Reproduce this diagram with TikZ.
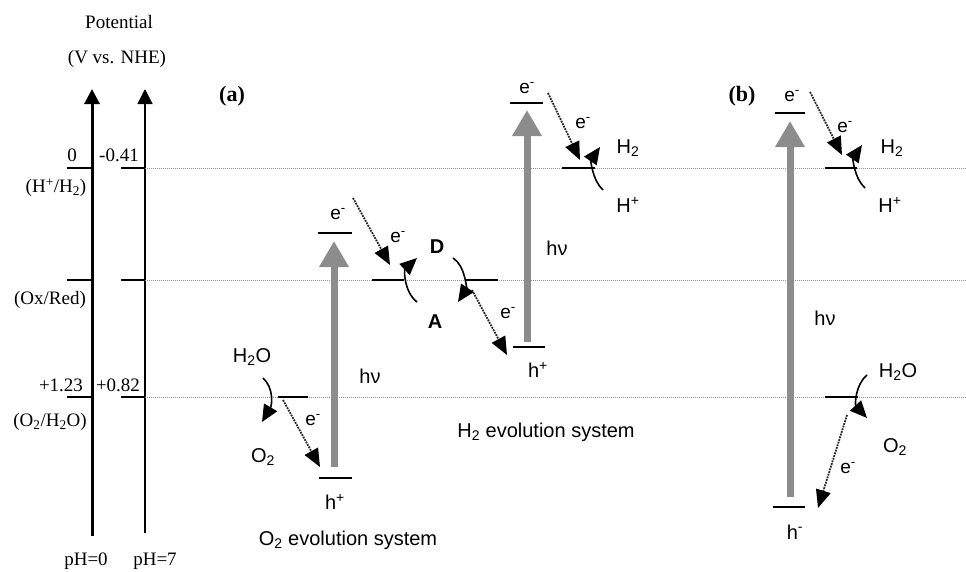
\documentclass[tikz,border=0pt]{standalone}
\usepackage{fontspec}
\setmainfont{Liberation Serif}
\setsansfont{Liberation Sans}
\usetikzlibrary{arrows.meta}
\definecolor{photongray}{RGB}{140,140,140}
\definecolor{refgray}{RGB}{150,150,150}
\begin{document}
\begin{tikzpicture}[x=1pt,y=-1pt,
  serif/.style={font=\fontsize{19}{22}\selectfont, inner sep=0pt},
  boldlab/.style={font=\bfseries\fontsize{22}{26}\selectfont, inner sep=0pt},
  lab/.style={font=\sffamily\fontsize{20}{24}\selectfont, inner sep=0pt},
  elab/.style={font=\sffamily\fontsize{19}{22}\selectfont, inner sep=0pt},
  axisline/.style={line width=3pt, -{Triangle[length=15pt,width=15pt]}},
  axisseven/.style={line width=1.6pt, -{Triangle[length=15pt,width=15pt]}},
  tickmark/.style={line width=2.2pt},
  refline/.style={refgray, line width=1pt, densely dotted},
  levelbar/.style={line width=2.8pt},
  photon/.style={line width=7pt, photongray, -{Triangle[length=26pt,width=28pt]}},
  etr/.style={line width=1.8pt, densely dotted, black!85, -{Triangle[length=18pt,width=15pt,color=black]}},
  curvearr/.style={line width=1.6pt, -{Triangle[length=17pt,width=15pt]}}
]
\useasboundingbox (0,0) rectangle (966,571);

% ---------- axes ----------
\coordinate (axzb) at (92,536);  \coordinate (axzt) at (92,89);
\coordinate (axsb) at (145,533); \coordinate (axst) at (145,89);
\draw[axisline] (axzb) -- (axzt);
\draw[axisseven] (axsb) -- (axst);

% ticks and reference lines
\foreach \yy/\nm in {168/h, 280/r, 397/o}{
  \coordinate (tl\nm) at (67,\yy);  \coordinate (tz\nm) at (92,\yy);
  \coordinate (ts\nm) at (121,\yy); \coordinate (tt\nm) at (145,\yy);
  \coordinate (te\nm) at (966,\yy);
  \draw[tickmark] (tl\nm) -- (tz\nm);
  \draw[tickmark, line width=1.8pt] (ts\nm) -- (tt\nm);
  \draw[refline] (tt\nm) -- (te\nm);
}

% axis labels
\node[serif] (lpot) at (119,22) {Potential};
\node[serif] (lvnhe) at (117,59) {(V vs. NHE)};
\node[serif] (lzero) at (72,155) {0};
\node[serif] (lm41) at (119,155) {-0.41};
\node[serif] (lhh) at (56,188) {(H\textsuperscript{+}/H\textsubscript{2})};
\node[serif] (loxred) at (50,300) {(Ox/Red)};
\node[serif] (l123) at (61,385) {+1.23};
\node[serif] (l082) at (118,385) {+0.82};
\node[serif] (loh) at (50,422) {(O\textsubscript{2}/H\textsubscript{2}O)};
\node[serif] (lph0) at (86,561) {pH=0};
\node[serif] (lph7) at (155,561) {pH=7};

\node[boldlab] (la) at (232,96) {(a)};
\node[boldlab] (lb) at (742,96) {(b)};

% ---------- (a) O2 evolution system ----------
\coordinate (oba) at (278,397); \coordinate (obb) at (308,397);
\draw[levelbar] (oba) -- (obb);
\coordinate (pab) at (334,467); \coordinate (pat) at (334,241);
\draw[photon] (pab) -- (pat);
\coordinate (eta) at (318,233); \coordinate (etb) at (352,233);
\draw[levelbar] (eta) -- (etb);
\coordinate (hba) at (319,478); \coordinate (hbb) at (352,478);
\draw[levelbar] (hba) -- (hbb);

\node[lab] (nhtwoo) at (252,357) {H\textsubscript{2}O};
\node[lab] (notwo) at (263,457) {O\textsubscript{2}};
\node[lab] (nhva) at (370,376) {hν};
\node[elab] (neat) at (338,214) {e\textsuperscript{-}};
\node[lab] (nhpa) at (335,502) {h\textsuperscript{+}};
\node[lab] (nosys) at (348,540) {O\textsubscript{2} evolution system};
\node[elab] (neone) at (313,420) {e\textsuperscript{-}};

\coordinate (caS) at (263,378); \coordinate (caE) at (262,422);
\draw[curvearr] (caS) .. controls (274,388) and (272,405) .. (caE);
\coordinate (eoS) at (283,400); \coordinate (eoE) at (320,467);
\draw[etr] (eoS) -- (eoE);

% ---------- mediator ----------
\coordinate (maa) at (372,280); \coordinate (mab) at (404,280);
\draw[levelbar] (maa) -- (mab);
\coordinate (mda) at (465,280); \coordinate (mdb) at (498,280);
\draw[levelbar] (mda) -- (mdb);
\node[lab, font=\sffamily\bfseries\fontsize{20}{24}\selectfont] (nD) at (437,247) {D};
\node[lab, font=\sffamily\bfseries\fontsize{20}{24}\selectfont] (nA) at (435,322) {A};
\coordinate (cbS) at (417,302); \coordinate (cbE) at (417,258);
\draw[curvearr] (cbS) .. controls (404,292) and (404,270) .. (cbE);
\coordinate (ccS) at (453,258); \coordinate (ccE) at (458,302);
\draw[curvearr] (ccS) .. controls (466,266) and (466,290) .. (ccE);
\coordinate (etwoS) at (353,198); \coordinate (etwoE) at (390,265);
\draw[etr] (etwoS) -- (etwoE);
\node[elab] (netwo) at (398,237) {e\textsuperscript{-}};
\coordinate (ethS) at (472,290); \coordinate (ethE) at (507,355);
\draw[etr] (ethS) -- (ethE);
\node[elab] (neth) at (508,313) {e\textsuperscript{-}};

% ---------- (a) H2 evolution system ----------
\coordinate (pbb) at (527,342); \coordinate (pbt) at (527,110);
\draw[photon] (pbb) -- (pbt);
\coordinate (hta) at (510,103); \coordinate (htb) at (543,103);
\draw[levelbar] (hta) -- (htb);
\coordinate (hha) at (513,347); \coordinate (hhb) at (545,347);
\draw[levelbar] (hha) -- (hhb);
\coordinate (hwa) at (562,168); \coordinate (hwb) at (595,168);
\draw[levelbar] (hwa) -- (hwb);
\node[elab] (neht) at (527,88) {e\textsuperscript{-}};
\node[lab] (nhvb) at (557,248) {hν};
\node[lab] (nhpb) at (538,370) {h\textsuperscript{+}};
\node[lab] (nhtwoa) at (628,148) {H\textsubscript{2}};
\node[lab] (nhplusa) at (628,205) {H\textsuperscript{+}};
\node[lab] (nhsys) at (546,432) {H\textsubscript{2} evolution system};
\coordinate (efS) at (548,93); \coordinate (efE) at (580,160);
\draw[etr] (efS) -- (efE);
\node[elab] (nef) at (583,123) {e\textsuperscript{-}};
\coordinate (cdS) at (603,190); \coordinate (cdE) at (600,147);
\draw[curvearr] (cdS) .. controls (592,180) and (591,160) .. (cdE);

% ---------- (b) ----------
\coordinate (pcb) at (790,497); \coordinate (pct) at (790,121);
\draw[photon] (pcb) -- (pct);
\coordinate (bta) at (775,113); \coordinate (btb) at (805,113);
\draw[levelbar] (bta) -- (btb);
\coordinate (bba) at (773,507); \coordinate (bbb) at (805,507);
\draw[levelbar] (bba) -- (bbb);
\coordinate (bha) at (825,168); \coordinate (bhb) at (857,168);
\draw[levelbar] (bha) -- (bhb);
\coordinate (boa) at (825,397); \coordinate (bob) at (858,397);
\draw[levelbar] (boa) -- (bob);

\node[elab] (nebt) at (792,96) {e\textsuperscript{-}};
\node[lab] (nbhtwo) at (892,148) {H\textsubscript{2}};
\node[lab] (nbhplus) at (890,205) {H\textsuperscript{+}};
\node[lab] (nbhv) at (825,318) {hν};
\node[lab] (nbhtwoo) at (898,372) {H\textsubscript{2}O};
\node[lab] (nbotwo) at (895,447) {O\textsubscript{2}};
\node[lab] (nbhm) at (795,532) {h\textsuperscript{-}};

\coordinate (egS) at (810,92); \coordinate (egE) at (842,155);
\draw[etr] (egS) -- (egE);
\node[elab] (neg) at (845,127) {e\textsuperscript{-}};
\coordinate (ehS) at (847,415); \coordinate (ehE) at (818,508);
\draw[etr] (ehS) -- (ehE);
\node[elab] (neh) at (848,468) {e\textsuperscript{-}};
\coordinate (ceS) at (865,188); \coordinate (ceE) at (862,145);
\draw[curvearr] (ceS) .. controls (854,178) and (853,158) .. (ceE);
\coordinate (cfS) at (867,375); \coordinate (cfE) at (867,418);
\draw[curvearr] (cfS) .. controls (855,385) and (855,405) .. (cfE);
\end{tikzpicture}
\end{document}
